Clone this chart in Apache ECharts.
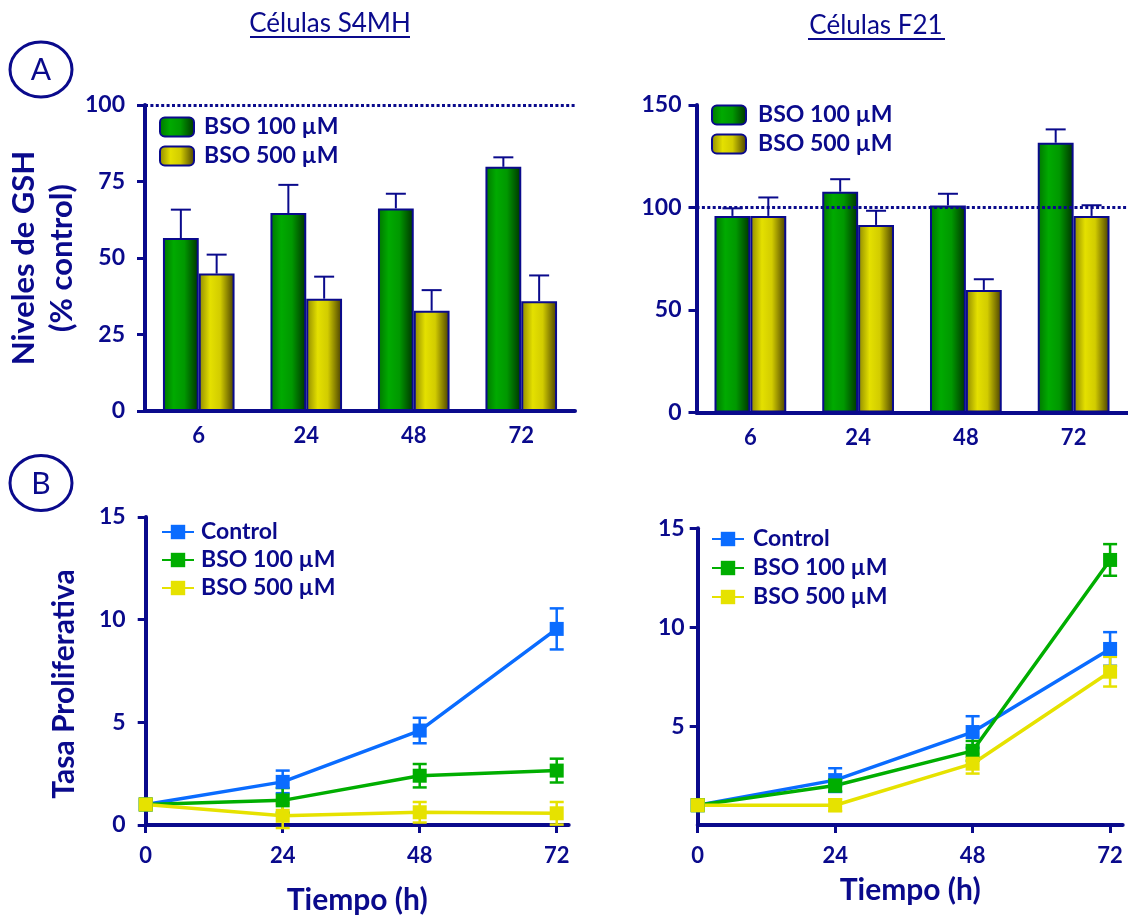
<!DOCTYPE html>
<html>
<head>
<meta charset="utf-8">
<script src="https://cdn.jsdelivr.net/npm/echarts@6/dist/echarts.min.js"></script>
<style>
  html, body { margin: 0; padding: 0; background: #ffffff; }
  #chart { width: 1128px; height: 917px; }
</style>
</head>
<body>
<div id="chart"></div>
<script>
// ---- GSH levels (% of control) after BSO exposure, by hour ----
const hoursGSH = ['6', '24', '48', '72'];
const s4mhBso100 = [56.5, 64.7, 66.2, 79.8];
const s4mhBso100Err = [9.3, 9.2, 4.8, 3.1];
const s4mhBso500 = [44.9, 36.7, 32.8, 35.9];
const s4mhBso500Err = [6.2, 7.2, 6.7, 8.4];
const f21Bso100 = [95.9, 107.7, 101.0, 131.6];
const f21Bso100Err = [3.7, 6.1, 5.7, 6.5];
const f21Bso500 = [95.9, 91.5, 59.8, 95.9];
const f21Bso500Err = [9.0, 6.9, 5.2, 5.2];

// ---- Proliferation rate over time (h) ----
const hoursProlif = [0, 24, 48, 72];
const s4mhControl = [1.0, 2.1, 4.6, 9.55];
const s4mhControlErr = [0, 0.55, 0.62, 1.0];
const s4mhProlif100 = [1.0, 1.2, 2.4, 2.65];
const s4mhProlif100Err = [0, 0.6, 0.57, 0.58];
const s4mhProlif500 = [1.0, 0.45, 0.62, 0.57];
const s4mhProlif500Err = [0, 0.6, 0.5, 0.55];
const f21Control = [1.0, 2.27, 4.7, 8.9];
const f21ControlErr = [0, 0.6, 0.8, 0.85];
const f21Prolif100 = [1.0, 2.0, 3.75, 13.4];
const f21Prolif100Err = [0, 0.3, 0.5, 0.8];
const f21Prolif500 = [1.0, 1.0, 3.1, 7.75];
const f21Prolif500Err = [0, 0.3, 0.5, 0.75];

const yTicksGSHLeft = { min: 0, max: 100, interval: 25 };
const yTicksGSHRight = { min: 0, max: 150, interval: 50 };
const yTicksProlif = { min: 0, max: 15, interval: 5 };
const xTicksProlif = [0, 24, 48, 72];

const LBL_100 = 'BSO 100 µM';
const LBL_500 = 'BSO 500 µM';
const LBL_CTRL = 'Control';
const GSH_TAG = ' (GSH)';   // keeps bar series names apart from the line series

const NAVY = '#0a0a8c';
const FONT = 'Lato';
const W = 'bold';
const BAR_RATIO = 0.333;

const greenFill = {
  type: 'linear', x: 0, y: 0, x2: 1, y2: 0,
  colorStops: [
    { offset: 0, color: '#007400' }, { offset: 0.3, color: '#00aa00' },
    { offset: 0.6, color: '#009800' }, { offset: 1, color: '#003000' }
  ]
};
const yellowFill = {
  type: 'linear', x: 0, y: 0, x2: 1, y2: 0,
  colorStops: [
    { offset: 0, color: '#8c8600' }, { offset: 0.32, color: '#e4e000' },
    { offset: 0.6, color: '#d2cc00' }, { offset: 1, color: '#463c00' }
  ]
};
const COL_CTRL = '#0a6cff';
const COL_100 = '#00ae00';
const COL_500 = '#e6e200';

const chart = echarts.init(document.getElementById('chart'));

// upward error bars sitting on grouped bars
function barErrors(values, errs, side) {
  return values.map((v, i) => [i, v, errs[i], side]);
}
function barErrorRender(params, api) {
  const c = api.coord([api.value(0), api.value(1)]);
  const t = api.coord([api.value(0), api.value(1) + api.value(2)]);
  const w = api.size([1, 0])[0] * BAR_RATIO;
  const x = c[0] + api.value(3) * w / 2;
  const st = { stroke: NAVY, lineWidth: 2 };
  return {
    type: 'group',
    children: [
      { type: 'line', shape: { x1: x, y1: c[1], x2: x, y2: t[1] }, style: st },
      { type: 'line', shape: { x1: x - 10, y1: t[1], x2: x + 10, y2: t[1] }, style: st }
    ]
  };
}
// symmetric error bars for the time courses
function lineErrors(values, errs) {
  return values.map((v, i) => [hoursProlif[i], v, errs[i]]).filter(d => d[2] > 0);
}
function lineErrorRender(color) {
  return function (params, api) {
    const x = api.value(0), y = api.value(1), e = api.value(2);
    const lo = api.coord([x, y - e]);
    const hi = api.coord([x, y + e]);
    const st = { stroke: color, lineWidth: 2.5 };
    return {
      type: 'group',
      children: [
        { type: 'line', shape: { x1: lo[0], y1: lo[1], x2: hi[0], y2: hi[1] }, style: st },
        { type: 'line', shape: { x1: lo[0] - 7, y1: lo[1], x2: lo[0] + 7, y2: lo[1] }, style: st },
        { type: 'line', shape: { x1: hi[0] - 7, y1: hi[1], x2: hi[0] + 7, y2: hi[1] }, style: st }
      ]
    };
  };
}

function barSeries(name, fill, values, axis, withRef) {
  const s = {
    type: 'bar', name: name + GSH_TAG, xAxisIndex: axis, yAxisIndex: axis,
    data: values, barWidth: (BAR_RATIO * 100) + '%', barGap: '0%',
    itemStyle: { color: fill, borderColor: NAVY, borderWidth: 2 },
    emphasis: { disabled: true }
  };
  if (withRef) {
    s.markLine = {
      silent: true, symbol: ['none', 'none'], label: { show: false },
      lineStyle: { color: NAVY, type: [3, 2.4], width: 3 },
      data: [{ yAxis: 100 }]
    };
  }
  return s;
}
function lineSeries(name, color, values, axis) {
  return {
    type: 'line', name: name, xAxisIndex: axis, yAxisIndex: axis,
    data: values.map((v, i) => [hoursProlif[i], v]),
    symbol: 'rect', symbolSize: 14, showSymbol: true,
    lineStyle: { color: color, width: 3.5 }, itemStyle: { color: color },
    emphasis: { disabled: true }
  };
}
function errSeries(values, errs, color, axis) {
  return {
    type: 'custom', xAxisIndex: axis, yAxisIndex: axis, z: 1, silent: true,
    data: lineErrors(values, errs), renderItem: lineErrorRender(color),
    encode: { x: 0, y: 1 }
  };
}

const axisLine = { show: true, onZero: false, lineStyle: { color: NAVY, width: 4 } };
const tickStyle = { show: true, length: 8, lineStyle: { color: NAVY, width: 3 } };

function catAxis(grid) {
  return {
    type: 'category', gridIndex: grid, data: hoursGSH,
    axisLine: axisLine, axisTick: { show: false },
    axisLabel: { color: NAVY, fontFamily: FONT, fontSize: 22, fontWeight: W, margin: 14 },
    splitLine: { show: false }
  };
}
function timeAxis(grid, max, gap) {
  return {
    type: 'value', gridIndex: grid, min: 0, max: max, interval: 24,
    name: 'Tiempo (h)', nameLocation: 'middle', nameGap: gap,
    nameTextStyle: { color: NAVY, fontFamily: FONT, fontSize: 30, fontWeight: W },
    axisLine: axisLine,
    axisTick: Object.assign({ customValues: xTicksProlif }, tickStyle),
    axisLabel: { customValues: xTicksProlif, color: NAVY, fontFamily: FONT, fontSize: 22, fontWeight: W, margin: 20 },
    splitLine: { show: false }
  };
}
function valAxis(grid, ticks, margin, extra) {
  return Object.assign({
    type: 'value', gridIndex: grid, min: ticks.min, max: ticks.max, interval: ticks.interval,
    axisLine: axisLine, axisTick: tickStyle,
    axisLabel: { color: NAVY, fontFamily: FONT, fontSize: 23, fontWeight: W, margin: margin },
    splitLine: { show: false }
  }, extra || {});
}

function legendFor(left, top, names, icon, gap, pad) {
  return {
    orient: 'vertical', left: left, top: top, itemGap: gap, padding: 0,
    itemWidth: icon[0], itemHeight: icon[1], selectedMode: false,
    data: names,
    formatter: n => n.replace(GSH_TAG, ''),
    textStyle: { color: NAVY, fontFamily: FONT, fontSize: 23, fontWeight: W, lineHeight: 24, padding: [0, 0, 0, pad] }
  };
}

const option = {
  backgroundColor: '#ffffff',
  animation: false,
  grid: [
    { left: 145, top: 105, width: 430, height: 306, outerBoundsMode: 'none' },
    { left: 696.5, top: 105, width: 431, height: 307.5, outerBoundsMode: 'none' },
    { left: 145.7, top: 517, width: 423, height: 308, outerBoundsMode: 'none' },
    { left: 697.7, top: 528.3, width: 425, height: 296.7, outerBoundsMode: 'none' }
  ],
  xAxis: [catAxis(0), catAxis(1), timeAxis(2, 74.1, 60), timeAxis(3, 74.2, 50)],
  yAxis: [
    valAxis(0, yTicksGSHLeft, 20, {
      name: 'Niveles de GSH\n(% control)', nameLocation: 'middle', nameGap: 58, nameRotate: 90,
      nameTextStyle: { color: NAVY, fontFamily: FONT, fontSize: 31, fontWeight: W, lineHeight: 38 }
    }),
    valAxis(1, yTicksGSHRight, 15),
    valAxis(2, yTicksProlif, 20, {
      name: 'Tasa Proliferativa', nameLocation: 'middle', nameGap: 66, nameRotate: 90,
      nameTextStyle: { color: NAVY, fontFamily: FONT, fontSize: 30, fontWeight: W, padding: [0, 26, 0, 0] }
    }),
    valAxis(3, yTicksProlif, 13, {
      axisLabel: { color: NAVY, fontFamily: FONT, fontSize: 23, fontWeight: W, margin: 13, showMinLabel: false }
    })
  ],
  legend: [
    legendFor(159, 115, [LBL_100 + GSH_TAG, LBL_500 + GSH_TAG], [34, 19], 5, 5),
    legendFor(711, 103, [LBL_100 + GSH_TAG, LBL_500 + GSH_TAG], [34, 19], 5, 7),
    legendFor(161, 520, [LBL_CTRL, LBL_100, LBL_500], [32, 18], 4, 2),
    legendFor(711, 527, [LBL_CTRL, LBL_100, LBL_500], [32, 18], 5, 4)
  ],
  graphic: [
    { type: 'text', x: 330, y: 24, style: { text: 'Células S4MH', font: '26px Lato', fill: NAVY, align: 'center', verticalAlign: 'middle' } },
    { type: 'line', shape: { x1: 250, y1: 37, x2: 410, y2: 37 }, style: { stroke: NAVY, lineWidth: 2 } },
    { type: 'text', x: 876, y: 26, style: { text: 'Células F21', font: '26px Lato', fill: NAVY, align: 'center', verticalAlign: 'middle' } },
    { type: 'line', shape: { x1: 808, y1: 39, x2: 945, y2: 39 }, style: { stroke: NAVY, lineWidth: 2 } },
    { type: 'ellipse', shape: { cx: 41, cy: 69.5, rx: 31, ry: 27.5 }, style: { stroke: NAVY, lineWidth: 3, fill: 'none' } },
    { type: 'text', x: 41, y: 70, style: { text: 'A', font: '30px Lato', fill: NAVY, align: 'center', verticalAlign: 'middle' } },
    { type: 'ellipse', shape: { cx: 41, cy: 483, rx: 31, ry: 27.5 }, style: { stroke: NAVY, lineWidth: 3, fill: 'none' } },
    { type: 'text', x: 41, y: 484, style: { text: 'B', font: '30px Lato', fill: NAVY, align: 'center', verticalAlign: 'middle' } }
  ],
  series: [
    // A, S4MH
    barSeries(LBL_100, greenFill, s4mhBso100, 0, false),
    barSeries(LBL_500, yellowFill, s4mhBso500, 0, true),
    { type: 'custom', xAxisIndex: 0, yAxisIndex: 0, z: 3, silent: true, renderItem: barErrorRender,
      data: barErrors(s4mhBso100, s4mhBso100Err, -1).concat(barErrors(s4mhBso500, s4mhBso500Err, 1)),
      encode: { x: 0, y: 1 } },
    // A, F21
    barSeries(LBL_100, greenFill, f21Bso100, 1, false),
    barSeries(LBL_500, yellowFill, f21Bso500, 1, true),
    { type: 'custom', xAxisIndex: 1, yAxisIndex: 1, z: 3, silent: true, renderItem: barErrorRender,
      data: barErrors(f21Bso100, f21Bso100Err, -1).concat(barErrors(f21Bso500, f21Bso500Err, 1)),
      encode: { x: 0, y: 1 } },
    // B, S4MH
    lineSeries(LBL_CTRL, COL_CTRL, s4mhControl, 2),
    lineSeries(LBL_100, COL_100, s4mhProlif100, 2),
    lineSeries(LBL_500, COL_500, s4mhProlif500, 2),
    errSeries(s4mhControl, s4mhControlErr, COL_CTRL, 2),
    errSeries(s4mhProlif100, s4mhProlif100Err, COL_100, 2),
    errSeries(s4mhProlif500, s4mhProlif500Err, COL_500, 2),
    // B, F21
    lineSeries(LBL_CTRL, COL_CTRL, f21Control, 3),
    lineSeries(LBL_100, COL_100, f21Prolif100, 3),
    lineSeries(LBL_500, COL_500, f21Prolif500, 3),
    errSeries(f21Control, f21ControlErr, COL_CTRL, 3),
    errSeries(f21Prolif100, f21Prolif100Err, COL_100, 3),
    errSeries(f21Prolif500, f21Prolif500Err, COL_500, 3)
  ]
};

chart.setOption(option);
</script>
</body>
</html>
